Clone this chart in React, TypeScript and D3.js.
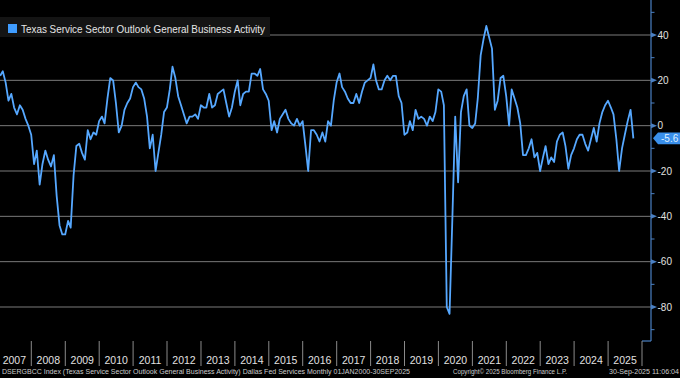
import React from 'react';
import * as d3 from 'd3';

const W = 680;
const H = 378;

const years = [2007, 2008, 2009, 2010, 2011, 2012, 2013, 2014, 2015, 2016, 2017, 2018, 2019, 2020, 2021, 2022, 2023, 2024, 2025];
const v2007 = [22, 24, 19, 11, 14, 8, 5, 9, 7, 3, 0, -4];
const v2008 = [-17, -11, -26, -17, -11, -15, -18, -13, -31, -44, -48, -48];
const v2009 = [-42, -45, -22, -9, -8, -12, -15, -2, -6, -3, -4, 2];
const v2010 = [4, 1, 12, 21, 20, 10, -3, 0, 7, 10, 12, 17];
const v2011 = [19, 17, 16, 12, 4, -10, -4, -20, -12, -4, 6, 8];
const v2012 = [16, 26, 21, 13, 9, 5, 1, 4, 4, 5, 3, 9];
const v2013 = [8, 8, 14, 8, 9, 14, 15, 16, 10, 4, 8, 15];
const v2014 = [20, 9, 14, 15, 15, 23, 23, 22, 25, 16, 14, 11];
const v2015 = [-2, 2, -3, 3, 5, 7, 3, 1, 0, 3, 0, 2];
const v2016 = [-9, -20, -2, -2, -4, -7, -3, -7, 2, 0, 11, 19];
const v2017 = [23, 17, 15, 12, 10, 10, 14, 10, 15, 19, 20, 21];
const v2018 = [27, 20, 16, 16, 20, 22, 20, 22, 22, 13, 10, -4];
const v2019 = [-3, 2, -2, 7, 3, 4, 3, 0, 4, 2, 6, 16];
const v2020 = [15, 9, -80, -83, -40, 4, -25, 6, 13, 16, 0, -1];
const v2021 = [1, 12, 31, 38, 44, 39, 34, 7, 11, 21, 22, 13];
const v2022 = [0, 16, 12, 8, 1, -13, -13, -10, -6, -14, -12, -20];
const v2023 = [-14, -9, -17, -14, -16, -7, -4, -3, -9, -19, -13, -10];
const v2024 = [-6, -4, -4, -8, -11, -6, -1, -7, 1, 6, 9, 11];
const v2025 = [8, 5, -6, -20, -10, -4, 2, 7, -5.6];
const valuesByYear = [v2007, v2008, v2009, v2010, v2011, v2012, v2013, v2014, v2015, v2016, v2017, v2018, v2019, v2020, v2021, v2022, v2023, v2024, v2025];

const yTicks = [40, 20, 0, -20, -40, -60, -80];
const yMinorTicks = [50, 30, 10, -10, -30, -50, -70, -90];
const lastLabel = '-5.6';
const legendLabel = 'Texas Service Sector Outlook General Business Activity';
const footerLeft = 'DSERGBCC Index (Texas Service Sector Outlook General Business Activity) Dallas Fed Services  Monthly 01JAN2000-30SEP2025';
const footerMid = 'Copyright\u00A9 2025 Bloomberg Finance L.P.';
const footerRight = '30-Sep-2025 11:06:04';

const FONT = '"Liberation Sans", Arial, sans-serif';
const LINE_COLOR = '#56a8ff';

export default function App() {
  const data = years.flatMap((yr, i) =>
    valuesByYear[i].map((v, m) => ({ date: new Date(yr, m + 1, 0), v }))
  );
  const x = d3.scaleTime().domain([new Date(2007, 0, 1), new Date(2026, 0, 1)]).range([-2.6, 642]);
  const y = d3.scaleLinear().domain([-80, 40]).range([307, 35]);
  const line = d3.line<{ date: Date; v: number }>().x(d => x(d.date)).y(d => y(d.v));

  const axisX = 651;
  const plotBottom = 341;
  const last = data[data.length - 1];
  const ly = y(last.v);

  return (
    <svg width={W} height={H} style={{ position: 'absolute', left: 0, top: 0, display: 'block', background: '#000' }} fontFamily={FONT}>
      <rect x={0} y={0} width={W} height={H} fill="#000" />
      <defs>
        <clipPath id="plotClip">
          <rect x={0} y={0} width={axisX} height={plotBottom} />
        </clipPath>
      </defs>
      {yTicks.map(t => (
        <line key={'g' + t} x1={0} x2={axisX} y1={y(t)} y2={y(t)} stroke="#7a7a7a" strokeWidth={1} />
      ))}
      <rect x={0} y={17} width={270} height={20} fill="#141414" />
      <rect x={8} y={24} width={9} height={9} fill="#3f9cff" />
      <text x={21} y={33.3} fontSize={11} fill="#e6e6e6" textLength={244} lengthAdjust="spacingAndGlyphs">{legendLabel}</text>

      <path d={line(data) || ''} fill="none" stroke={LINE_COLOR} strokeWidth={1.8} strokeLinejoin="round" clipPath="url(#plotClip)" />

      <line x1={axisX} x2={axisX} y1={0} y2={plotBottom} stroke="#4a80c4" strokeWidth={1.2} />
      <line x1={642} x2={axisX} y1={plotBottom} y2={plotBottom} stroke="#4a80c4" strokeWidth={1.2} />
      {yMinorTicks.map(t => (
        <line key={'m' + t} x1={axisX} x2={axisX + 3.5} y1={y(t)} y2={y(t)} stroke="#4a80c4" strokeWidth={1} />
      ))}
      {yTicks.map(t => (
        <g key={'t' + t}>
          <path d={`M${axisX},${y(t) - 2.5}L${axisX + 6},${y(t)}L${axisX},${y(t) + 2.5}Z`} fill="#4a80c4" />
          <text x={657.5} y={y(t)} dy="0.35em" fontSize={10} fill="#e0e0e0">{String(t)}</text>
        </g>
      ))}

      <path d={`M653,${ly}L658,${ly - 5.8}L680,${ly - 5.8}L680,${ly + 5.8}L658,${ly + 5.8}Z`} fill="#3a8fea" />
      <text x={661} y={ly} dy="0.36em" fontSize={10} fill="#dfeeff">{lastLabel}</text>

      {years.concat([2026]).map(yr => (
        <line key={'d' + yr} x1={x(new Date(yr, 0, 1))} x2={x(new Date(yr, 0, 1))} y1={plotBottom} y2={366} stroke="#8a8a8a" strokeWidth={1} />
      ))}
      {years.map(yr => (
        <text key={'y' + yr} x={(x(new Date(yr, 0, 1)) + x(new Date(yr + 1, 0, 1))) / 2} y={364} textAnchor="middle" fontSize={10.5} fill="#e0e0e0">{String(yr)}</text>
      ))}

      <text x={2} y={374} fontSize={7} fill="#cccccc" textLength={408} lengthAdjust="spacingAndGlyphs">{footerLeft}</text>
      <text x={453} y={374} fontSize={7} fill="#cccccc" textLength={114} lengthAdjust="spacingAndGlyphs">{footerMid}</text>
      <text x={609} y={374} fontSize={7} fill="#cccccc" textLength={70} lengthAdjust="spacingAndGlyphs">{footerRight}</text>
    </svg>
  );
}
